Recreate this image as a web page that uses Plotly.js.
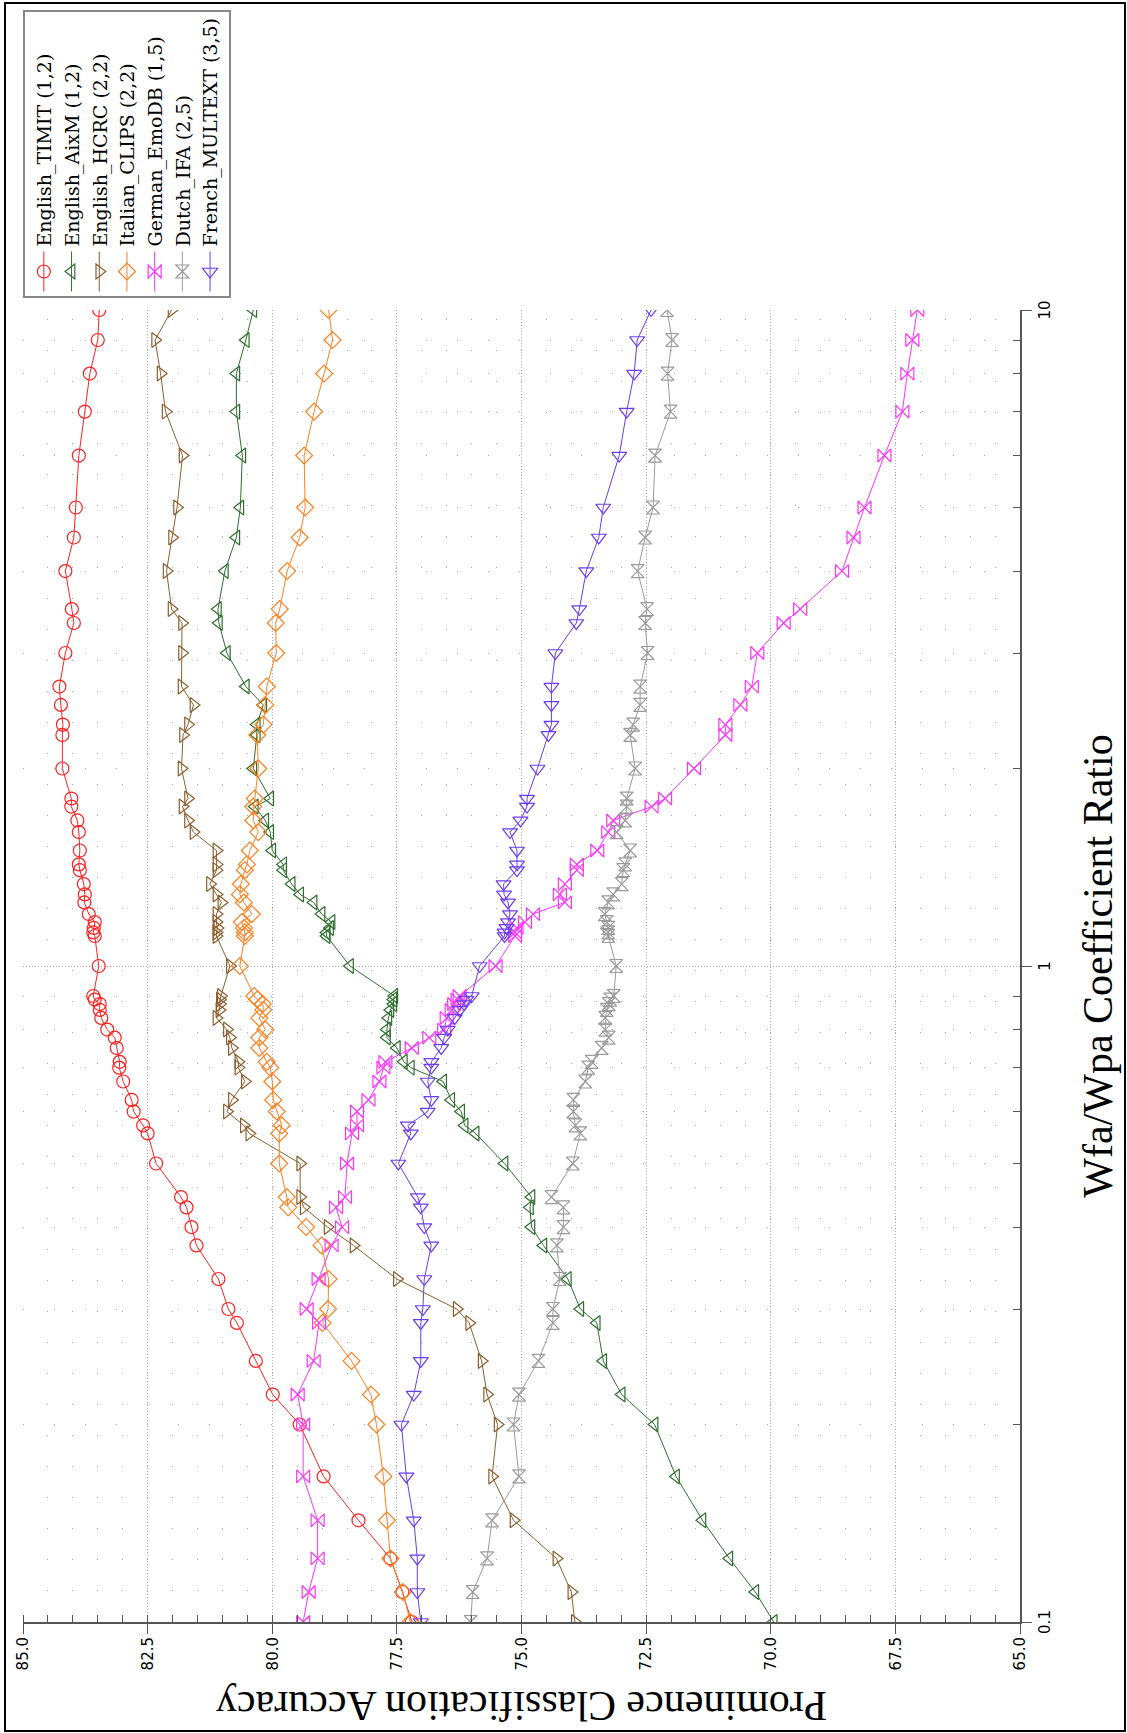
<!DOCTYPE html>
<html>
<head>
<meta charset="utf-8">
<script src="https://cdn.plot.ly/plotly-3.0.1.min.js"></script>
<style>
  html, body { margin:0; padding:0; background:#fff; overflow:hidden; width:1127px; height:1733px; }
  #chart { position:absolute; left:0; top:0; width:1733px; height:1127px; }
  #frame { position:absolute; left:4px; top:2px; width:1122px; height:1730px; box-sizing:border-box;
           border:2px solid #000; pointer-events:none; }
</style>
</head>
<body>
<div id="chart"></div>
<div id="frame"></div>
<script>
// Wfa/Wpa coefficient ratios (x axis, log scale)
const ratio = [0.1, 0.1111, 0.125, 0.1429, 0.1667, 0.2, 0.2222, 0.25, 0.2857, 0.3, 0.3333,
  0.375, 0.4, 0.4286, 0.4444, 0.5, 0.5556, 0.5714, 0.6, 0.625, 0.6667, 0.7, 0.7143, 0.75,
  0.7778, 0.8, 0.8333, 0.8571, 0.875, 0.8889, 0.9, 1, 1.1111, 1.125, 1.1429, 1.1667, 1.2,
  1.25, 1.2857, 1.3333, 1.4, 1.4286, 1.5, 1.6, 1.6667, 1.75, 1.8, 2, 2.25, 2.3333, 2.5,
  2.6667, 3, 3.3333, 3.5, 4, 4.5, 5, 6, 7, 8, 9, 10];

const seriesNames = ["English_TIMIT (1,2)", "English_AixM (1,2)", "English_HCRC (2,2)",
  "Italian_CLIPS (2,2)", "German_EmoDB (1,5)", "Dutch_IFA (2,5)", "French_MULTEXT (3,5)"];

const timit = [77.20, 77.39, 77.63, 78.27, 78.97, 79.45, 79.99, 80.33, 80.71, 80.88, 81.08,
  81.52, 81.62, 81.72, 81.83, 82.33, 82.50, 82.59, 82.78, 82.82, 82.99, 83.07, 83.06, 83.12,
  83.16, 83.31, 83.43, 83.46, 83.46, 83.56, 83.59, 83.48, 83.56, 83.59, 83.58, 83.56, 83.68,
  83.77, 83.76, 83.78, 83.86, 83.88, 83.86, 83.88, 83.91, 84.03, 84.03, 84.21, 84.21, 84.20,
  84.24, 84.27, 84.15, 83.98, 84.02, 84.15, 83.98, 83.94, 83.88, 83.76, 83.66, 83.50, 83.47];

const aixm = [69.94, 70.31, 70.83, 71.37, 71.90, 72.33, 72.99, 73.36, 73.49, 73.82, 74.07,
  74.56, 74.80, 74.83, 74.80, 75.34, 75.92, 76.14, 76.21, 76.41, 76.57, 77.22, 77.36, 77.50,
  77.70, 77.70, 77.67, 77.63, 77.57, 77.57, 77.55, 78.44, 78.91, 78.91, 78.84, 78.81, 79.01,
  79.17, 79.44, 79.61, 79.78, 79.78, 80.00, 80.04, 80.14, 80.35, 80.04, 80.38, 80.31, 80.31,
  80.18, 80.53, 80.91, 81.07, 81.09, 80.95, 80.72, 80.64, 80.60, 80.72, 80.72, 80.53, 80.38];

const hcrc = [73.93, 74.00, 74.30, 75.16, 75.59, 75.48, 75.69, 75.80, 76.05, 76.30, 77.50,
  78.37, 78.89, 79.37, 79.44, 79.44, 80.46, 80.57, 80.91, 80.81, 80.55, 80.68, 80.68, 80.81,
  80.85, 80.91, 81.12, 81.06, 81.05, 81.05, 81.03, 80.85, 81.12, 81.12, 81.10, 81.12, 81.12,
  81.02, 81.12, 81.25, 81.12, 81.12, 81.12, 81.58, 81.69, 81.80, 81.69, 81.82, 81.79, 81.69,
  81.58, 81.82, 81.81, 81.81, 82.02, 82.12, 82.01, 81.91, 81.80, 82.14, 82.24, 82.35, 82.02];

const clips = [77.23, 77.38, 77.63, 77.70, 77.77, 77.91, 78.02, 78.41, 78.99, 78.88, 78.87,
  79.01, 79.32, 79.68, 79.71, 79.86, 79.86, 79.81, 79.91, 79.98, 80.00, 80.04, 80.11, 80.26,
  80.26, 80.14, 80.26, 80.18, 80.19, 80.30, 80.36, 80.65, 80.55, 80.55, 80.57, 80.61, 80.41,
  80.57, 80.65, 80.63, 80.55, 80.51, 80.45, 80.28, 80.38, 80.38, 80.35, 80.28, 80.30, 80.18,
  80.14, 80.11, 79.92, 79.93, 79.85, 79.70, 79.45, 79.34, 79.36, 79.16, 78.96, 78.79, 78.87];

const emodb = [79.38, 79.27, 79.09, 79.09, 79.38, 79.38, 79.49, 79.17, 79.06, 79.31, 79.07,
  78.81, 78.60, 78.72, 78.54, 78.50, 78.40, 78.30, 78.30, 78.07, 77.85, 77.77, 77.73, 77.20,
  76.85, 76.55, 76.50, 76.40, 76.35, 76.28, 76.24, 75.52, 75.13, 75.13, 75.10, 74.93, 74.77,
  74.13, 74.23, 74.13, 73.89, 73.89, 73.48, 73.26, 73.16, 72.39, 72.12, 71.54, 70.91, 70.91,
  70.61, 70.38, 70.27, 69.74, 69.41, 68.57, 68.34, 68.12, 67.72, 67.36, 67.26, 67.16, 67.06];

const ifa = [76.02, 75.98, 75.69, 75.59, 75.05, 75.16, 75.05, 74.66, 74.37, 74.37, 74.23,
  74.29, 74.16, 74.16, 74.40, 73.97, 73.82, 73.92, 73.96, 73.96, 73.72, 73.66, 73.59, 73.39,
  73.25, 73.32, 73.32, 73.29, 73.25, 73.22, 73.15, 73.10, 73.26, 73.26, 73.26, 73.29, 73.33,
  73.26, 73.16, 72.99, 72.96, 72.92, 72.82, 73.09, 72.92, 72.89, 72.89, 72.72, 72.82, 72.76,
  72.62, 72.62, 72.47, 72.52, 72.48, 72.67, 72.52, 72.36, 72.32, 72.01, 72.07, 71.98, 72.08];

const multext = [77.02, 77.09, 77.09, 77.16, 77.31, 77.41, 77.16, 77.02, 77.02, 76.98, 76.95,
  76.81, 76.95, 77.02, 77.08, 77.47, 77.22, 77.28, 76.88, 76.81, 76.88, 76.81, 76.81, 76.61,
  76.55, 76.48, 76.34, 76.24, 76.15, 76.11, 76.00, 75.84, 75.34, 75.34, 75.30, 75.27, 75.23,
  75.27, 75.35, 75.36, 75.09, 75.09, 75.09, 75.23, 75.02, 74.89, 74.89, 74.68, 74.46, 74.40,
  74.40, 74.40, 74.32, 73.90, 73.84, 73.70, 73.45, 73.36, 73.04, 72.89, 72.74, 72.68, 72.40];

const xTickVals = [0.1, 1, 10];
const xTickText = ["0.1", "1", "10"];
const xMinorVals = [0.2, 0.3, 0.4, 0.5, 0.6, 0.7, 0.8, 0.9, 2, 3, 4, 5, 6, 7, 8, 9];

const allSeries = [timit, aixm, hcrc, clips, emodb, ifa, multext];
const colors = ["#ff2020", "#2e6e2e", "#8c5e2e", "#ff7f1e", "#ff33ff", "#9a9a9a", "#6a3cf0"];
const symbols = ["circle-open", "triangle-up-open", "triangle-down-open", "diamond-open",
  "hourglass-open", "bowtie-open", "triangle-left-open"];

const traces = allSeries.map((vals, i) => ({
  type: "scatter",
  mode: "lines+markers",
  x: ratio,
  y: vals,
  name: seriesNames[i],
  line: { color: colors[i], width: 1 },
  marker: { symbol: symbols[i], size: 13, color: colors[i], line: { color: colors[i], width: 1.2 } }
}));

const layout = {
  width: 1733,
  height: 1127,
  margin: { l: 111, r: 309, t: 23, b: 107 },
  paper_bgcolor: "#ffffff",
  plot_bgcolor: "#ffffff",
  showlegend: true,
  legend: {
    x: 1.008, y: 1.0, xanchor: "left", yanchor: "top",
    bordercolor: "#888888", borderwidth: 2, bgcolor: "#ffffff",
    font: { family: "DejaVu Serif, serif", size: 19, color: "#000" },
    itemwidth: 40,
    tracegroupgap: 0
  },
  xaxis: {
    type: "log",
    range: [-1, 1],
    tickvals: xTickVals,
    ticktext: xTickText,
    ticks: "outside",
    ticklen: 10,
    tickcolor: "#555",
    showline: true,
    linecolor: "#555",
    linewidth: 2,
    mirror: false,
    showgrid: true,
    gridcolor: "#aaa",
    griddash: "1px,2px",
    gridwidth: 1,
    zeroline: false,
    tickfont: { family: "DejaVu Sans, sans-serif", size: 15, color: "#000" },
    minor: { tickvals: xMinorVals, ticks: "inside", ticklen: 7, tickcolor: "#555",
             showgrid: true, gridcolor: "#aaa", griddash: "1px,30px", gridwidth: 1 },
    title: { text: "Wfa/Wpa Coefficient Ratio", standoff: 30,
             font: { family: "Liberation Serif, serif", size: 42, color: "#000" } }
  },
  yaxis: {
    range: [65, 85],
    dtick: 2.5,
    tick0: 65,
    tickformat: ".1f",
    ticks: "outside",
    ticklen: 10,
    tickcolor: "#555",
    showline: true,
    linecolor: "#555",
    linewidth: 2,
    mirror: false,
    showgrid: true,
    gridcolor: "#aaa",
    griddash: "1px,2px",
    gridwidth: 1,
    zeroline: false,
    tickfont: { family: "DejaVu Sans, sans-serif", size: 15, color: "#000" },
    minor: { dtick: 0.5, ticks: "inside", ticklen: 7, tickcolor: "#555",
             showgrid: true, gridcolor: "#aaa", griddash: "1px,30px", gridwidth: 1 },
    title: { text: "Prominence Classification Accuracy", standoff: 8,
             font: { family: "Liberation Serif, serif", size: 42, color: "#000" } }
  }
};

Plotly.newPlot("chart", traces, layout, { displayModeBar: false, staticPlot: true }).then(() => {
  const el = document.getElementById("chart");
  el.style.transformOrigin = "0 0";
  el.style.transform = "translate(0px, 1733px) rotate(-90deg)";
});
</script>
</body>
</html>
